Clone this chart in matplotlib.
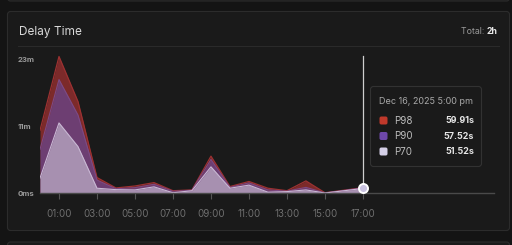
import matplotlib
matplotlib.use("Agg")
import matplotlib.pyplot as plt
from matplotlib.patches import FancyBboxPatch

plt.rcParams['font.family'] = ['Inter', 'DejaVu Sans']

# ---- data (minutes) ----
hours = list(range(0, 18))
xtick_labels = ["01:00", "03:00", "05:00", "07:00", "09:00", "11:00", "13:00", "15:00", "17:00"]
xtick_pos = [1, 3, 5, 7, 9, 11, 13, 15, 17]
p98 = [11.2, 24.3, 16.3, 2.8, 0.95, 1.3, 1.9, 0.46, 0.6, 6.6, 1.2, 2.1, 0.9, 0.46, 2.2, 0.1, 0.55, 1.0]
p90 = [7.8, 20.2, 13.9, 2.35, 0.8, 1.0, 1.6, 0.35, 0.55, 6.0, 1.05, 1.85, 0.6, 0.38, 1.05, 0.08, 0.5, 0.96]
p70 = [2.7, 12.5, 8.3, 0.9, 0.65, 0.6, 1.15, 0.1, 0.46, 4.7, 0.9, 1.45, 0.2, 0.3, 0.6, 0.05, 0.45, 0.86]
ytick_vals = [0, 11.9, 23.8]
ytick_labels = ["0ms", "11m", "23m"]
series_names = ["P98", "P90", "P70"]
tooltip_values = ["59.91s", "57.52s", "51.52s"]
tooltip_title = "Dec 16, 2025 5:00 pm"

W, H = 512, 245
fig = plt.figure(figsize=(W / 100, H / 100), dpi=100)
fig.patch.set_facecolor("#141414")

def fx(px):
    return px / W

def fy(py):
    return 1 - py / H

# background card layer
bg = fig.add_axes([0, 0, 1, 1], zorder=0)
bg.set_xlim(0, W); bg.set_ylim(H, 0); bg.axis("off")
bg.add_patch(FancyBboxPatch((7.5, 11.5), 502, 219, boxstyle="round,pad=0,rounding_size=3",
                            fc="#1a1a1a", ec="#2c2c2c", lw=0.8))
bg.add_patch(FancyBboxPatch((7.5, 242), 502, 20, boxstyle="round,pad=0,rounding_size=3",
                            fc="#1a1a1a", ec="#2c2c2c", lw=0.8))
bg.add_patch(FancyBboxPatch((7.5, -20), 502, 21, boxstyle="round,pad=0,rounding_size=3",
                            fc="#1a1a1a", ec="#2c2c2c", lw=0.8))
bg.plot([18, 499], [46.3, 46.3], color="#2a2a2a", lw=0.8)
bg.text(19, 32, "Delay Time", color="#d8d8d8", fontsize=8.5, va="center", ha="left")
bg.text(487, 32, "Total: ", color="#9a9a9a", fontsize=6.3, va="center", ha="right")
bg.text(487, 32, "2h", color="#e8e8e8", fontsize=6.3, va="center", ha="left", fontweight="bold")

# main chart axes
top_px, base_px, left_px, right_px = 50.0, 193.3, 40.0, 494.0
ppm = (base_px - 59.3) / 23.8
ax = fig.add_axes([fx(left_px), fy(base_px), (right_px - left_px) / W, (base_px - top_px) / H], zorder=1)
ax.set_facecolor("none")
ax.set_xlim(0, 23.9)
ax.set_ylim(0, (base_px - top_px) / ppm)

ax.fill_between(hours, 0, p98, color="#7c2a2a", lw=0)
ax.plot(hours, p98, color="#9c3131", lw=0.9)
ax.fill_between(hours, 0, p90, color="#6d3e72", lw=0)
ax.plot(hours, p90, color="#7d4a85", lw=0.8)
ax.fill_between(hours, 0, p70, color="#a790b0", lw=0)
ax.plot(hours, p70, color="#c9b8d4", lw=0.8)

for s in ["top", "right", "left"]:
    ax.spines[s].set_visible(False)
ax.spines["bottom"].set_color("#4a4a4a")
ax.spines["bottom"].set_linewidth(1)

ax.set_xticks(xtick_pos)
ax.set_xticklabels(xtick_labels)
ax.tick_params(axis="x", colors="#555555", length=4, width=0.8, pad=7, labelsize=7, labelcolor="#6f6f6f")
ax.set_yticks(ytick_vals)
ax.set_yticklabels(ytick_labels)
ax.tick_params(axis="y", length=0, pad=16, labelsize=5.6, labelcolor="#9a9a9a")
for lab in ax.get_yticklabels():
    lab.set_horizontalalignment("left")
    lab.set_fontweight("bold")

# hover line and marker
ax.axvline(17, ymin=0, ymax=(base_px - 56) / (base_px - top_px), color="#cfcfcf", lw=0.9)
ax.plot([17], [p70[-1]], marker="o", ms=6.5, mfc="#c9c2e0", mec="white", mew=1.4, zorder=5, clip_on=False)

# tooltip overlay
ov = fig.add_axes([0, 0, 1, 1], zorder=3)
ov.set_facecolor("none")
ov.set_xlim(0, W); ov.set_ylim(H, 0); ov.axis("off")
ov.add_patch(FancyBboxPatch((370.5, 86.5), 111, 80, boxstyle="round,pad=0,rounding_size=3",
                            fc="#1a1a1a", ec="#323232", lw=0.8))
ov.text(379, 101.5, tooltip_title, color="#a8a8a8", fontsize=6.5, va="center", ha="left")
sw_colors = ["#c0392b", "#6e48aa", "#d4cfe6"]
rows_y = [120.5, 136, 151.5]
for name, val, c, yy in zip(series_names, tooltip_values, sw_colors, rows_y):
    ov.add_patch(FancyBboxPatch((379.5, yy - 4), 8, 8, boxstyle="round,pad=0,rounding_size=1.8",
                                fc=c, ec="none"))
    ov.text(394, yy, name, color="#bdbdbd", fontsize=7, va="center", ha="left")
    ov.text(474, yy, val, color="#e6e6e6", fontsize=6.4, va="center", ha="right", fontweight="bold")

fig.savefig("out.png", dpi=100, facecolor=fig.get_facecolor())
